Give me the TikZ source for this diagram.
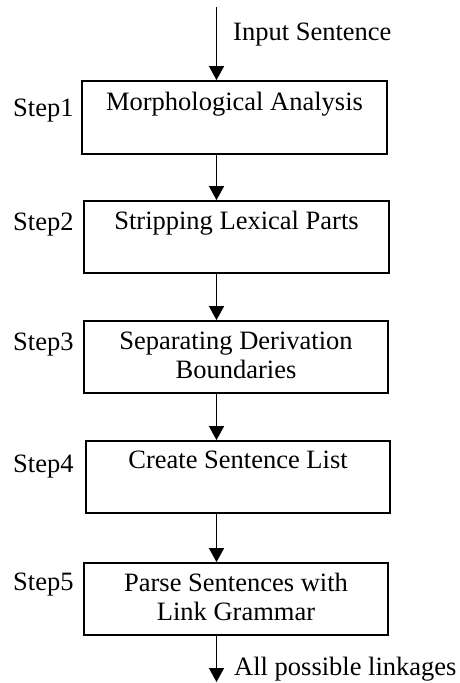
\documentclass[tikz,border=0pt]{standalone}
\usepackage{fontspec}
\setmainfont{Liberation Serif}
\usetikzlibrary{arrows.meta}
\begin{document}
\begin{tikzpicture}[x=1pt,y=-1pt,
  font=\fontsize{26.5}{29}\selectfont,
  stepbox/.style={draw, line width=1.8pt, rectangle, inner sep=0pt},
  txt/.style={inner sep=0pt, anchor=base},
  lbl/.style={inner sep=0pt, anchor=base west},
  conn/.style={line width=1.4pt, -{Triangle[width=15pt,length=14pt]}}]
\useasboundingbox (0,0) rectangle (459,683);
% boxes
\node[stepbox, minimum width=305pt, minimum height=73pt] (b1) at (234.5,117.5) {};
\node[stepbox, minimum width=305pt, minimum height=72pt] (b2) at (236.5,237) {};
\node[stepbox, minimum width=304pt, minimum height=72pt] (b3) at (236,357) {};
\node[stepbox, minimum width=304pt, minimum height=72pt] (b4) at (238,477) {};
\node[stepbox, minimum width=304pt, minimum height=72pt] (b5) at (236,599) {};
% box texts
\node[txt] (t1) at (234.5,110) {Morphological Analysis};
\node[txt] (t2) at (236.5,229.3) {Stripping Lexical Parts};
\node[txt] (t3) at (236,349.3) {\begin{tabular}[t]{@{}c@{}}Separating Derivation\\Boundaries\end{tabular}};
\node[txt] (t4) at (238,468.3) {Create Sentence List};
\node[txt] (t5) at (236,591) {\begin{tabular}[t]{@{}c@{}}Parse Sentences with\\Link Grammar\end{tabular}};
% step labels
\node[lbl] (s1) at (13,116) {Step1};
\node[lbl] (s2) at (13,230) {Step2};
\node[lbl] (s3) at (13,350) {Step3};
\node[lbl] (s4) at (13,472.5) {Step4};
\node[lbl] (s5) at (13,590) {Step5};
% input / output
\coordinate (in) at (216.5,7);
\coordinate (out) at (216.5,682);
\node[lbl] (inl) at (233,40.7) {Input Sentence};
\node[lbl] (outl) at (234,675) {All possible linkages};
% connectors
\draw[conn] (in) -- (in |- b1.north);
\draw[conn] (in |- b1.south) -- (in |- b2.north);
\draw[conn] (in |- b2.south) -- (in |- b3.north);
\draw[conn] (in |- b3.south) -- (in |- b4.north);
\draw[conn] (in |- b4.south) -- (in |- b5.north);
\draw[conn] (in |- b5.south) -- (out);
\end{tikzpicture}
\end{document}
